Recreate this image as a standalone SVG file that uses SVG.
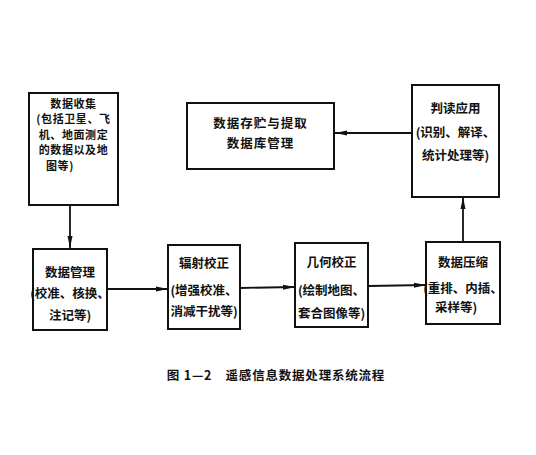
<svg xmlns="http://www.w3.org/2000/svg" width="536" height="455" viewBox="0 0 536 455">
<defs>
<style>
.box{fill:none;stroke:#111;stroke-width:2}
.t{font-family:"Noto Sans CJK SC","Noto Sans CJK JP",sans-serif;font-size:12.5px;font-weight:bold;fill:#111;text-anchor:middle}
.s{font-size:11px;letter-spacing:0.6px}
.c{stroke:#111;stroke-width:1.8;fill:none;marker-end:url(#ah)}
</style>
<marker id="ah" viewBox="0 0 12 6" refX="12" refY="3" markerWidth="12" markerHeight="6" markerUnits="userSpaceOnUse" orient="auto">
<path d="M0,0.5 L12,3 L0,5.5 Z" fill="#111"/>
</marker>
</defs>
<rect width="536" height="455" fill="#fff"/>
<g id="connectors">
<line class="c" x1="70" y1="205" x2="70" y2="248"/>
<line class="c" x1="107" y1="289" x2="168" y2="289"/>
<line class="c" x1="240" y1="288" x2="295" y2="287"/>
<line class="c" x1="368" y1="286" x2="426" y2="285"/>
<line class="c" x1="463" y1="242" x2="463" y2="197"/>
<line class="c" x1="411" y1="133" x2="335" y2="133"/>
</g>
<g id="n1">
<rect class="box" x="29" y="93" width="89" height="112"/>
<text class="t s" x="73.5" y="107.5">数据收集</text>
<text class="t s" x="73.5" y="123">(包括卫星、飞</text>
<text class="t s" x="73.5" y="138.5">机、地面测定</text>
<text class="t s" x="73.5" y="154">的数据以及地</text>
<text class="t s" x="60" y="169.5">图等)</text>
</g>
<g id="n2">
<rect class="box" x="187" y="103" width="147" height="66"/>
<text class="t" x="260.5" y="128" letter-spacing="1">数据存贮与提取</text>
<text class="t" x="260.5" y="148" letter-spacing="1">数据库管理</text>
</g>
<g id="n3">
<rect class="box" x="412" y="85" width="87" height="112"/>
<text class="t" x="455.5" y="113">判读应用</text>
<text class="t" x="455.5" y="137">(识别、解译、</text>
<text class="t" x="455.5" y="160">统计处理等)</text>
</g>
<g id="n4">
<rect class="box" x="33" y="249" width="74" height="81"/>
<text class="t" x="70" y="277">数据管理</text>
<text class="t" x="70" y="298">(校准、核换、</text>
<text class="t" x="70" y="320">注记等)</text>
</g>
<g id="n5">
<rect class="box" x="168" y="245" width="72" height="84"/>
<text class="t" x="204" y="268">辐射校正</text>
<text class="t" x="204" y="295">(增强校准、</text>
<text class="t" x="204" y="316">消减干扰等)</text>
</g>
<g id="n6">
<rect class="box" x="295" y="243" width="73" height="84"/>
<text class="t" x="331.5" y="267">几何校正</text>
<text class="t" x="331.5" y="295">(绘制地图、</text>
<text class="t" x="331.5" y="318">套合图像等)</text>
</g>
<g id="n7">
<rect class="box" x="426" y="242" width="74" height="82"/>
<text class="t" x="463" y="267">数据压缩</text>
<text class="t" x="463" y="293">(重排、内插、</text>
<text class="t" x="456" y="312">采样等)</text>
</g>
<g id="caption">
<text class="t" x="276" y="380" font-size="13.5" letter-spacing="0.8">图 1—2　遥感信息数据处理系统流程</text>
</g>
</svg>
